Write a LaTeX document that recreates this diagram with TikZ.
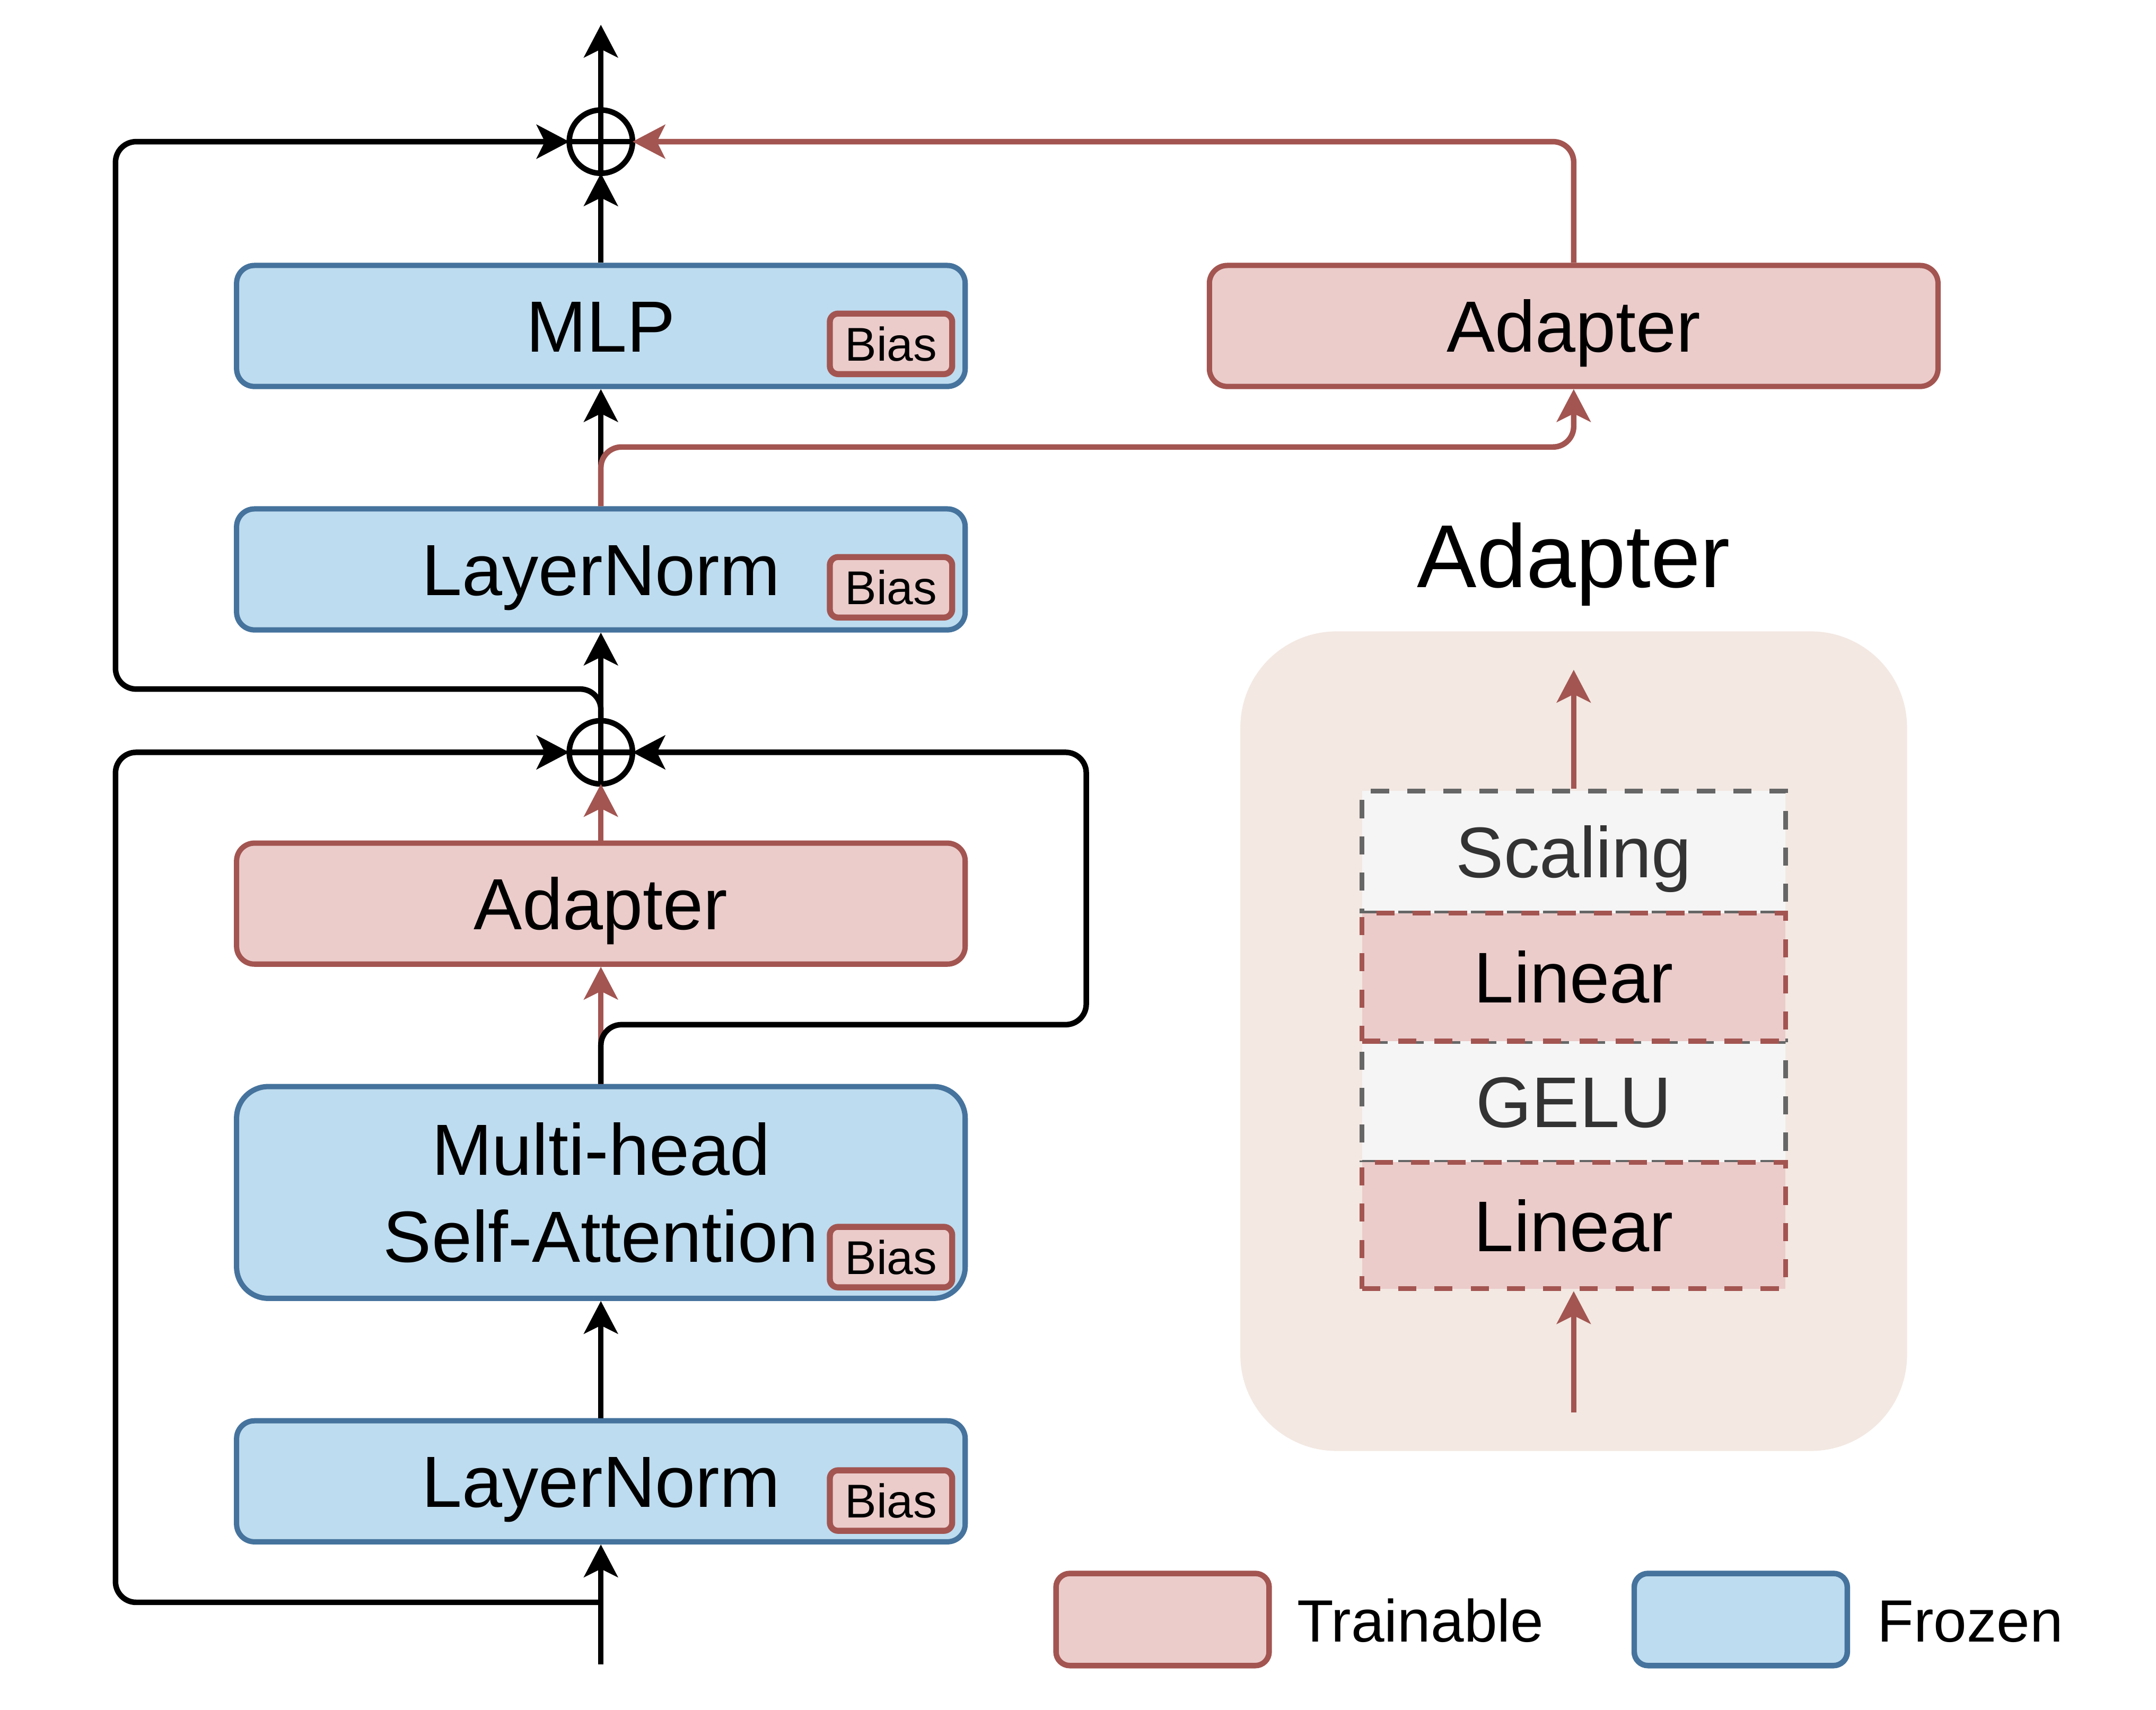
\documentclass[tikz,border=0pt]{standalone}
\usepackage{fontspec}
\setmainfont{Liberation Sans}
\usetikzlibrary{arrows.meta}
\definecolor{bfill}{HTML}{BEDCEF}
\definecolor{bdraw}{HTML}{45739D}
\definecolor{rfill}{HTML}{EBCCCB}
\definecolor{rdraw}{HTML}{A35551}
\definecolor{pfill}{HTML}{F3E8E2}
\definecolor{gfill}{HTML}{F5F5F5}
\definecolor{gdraw}{HTML}{666666}
\definecolor{gtext}{HTML}{333333}
\begin{document}
\begin{tikzpicture}[x=0.02cm,y=-0.02cm,
  >={Stealth[length=13.5pt,width=14pt,inset=3.4pt]},
  boxbase/.style={line width=2.2pt,rounded corners=0.26cm,minimum width=10.6cm,minimum height=1.76cm,inner sep=0pt},
  cap30/.style={font=\fontsize{30}{36}\selectfont,text height=21.5pt,text depth=0pt},
  frozen/.style={boxbase,draw=bdraw,fill=bfill},
  train/.style={boxbase,draw=rdraw,fill=rfill},
  bias/.style={draw=rdraw,fill=rfill,line width=2.5pt,rounded corners=0.12cm,minimum width=1.78cm,minimum height=0.88cm,inner sep=0pt,font=\fontsize{19.6}{22}\selectfont,text height=14pt,text depth=0pt},
  add/.style={circle,draw=black,line width=2.3pt,minimum size=0.92cm,inner sep=0pt,outer sep=0pt},
  conn/.style={line width=2.3pt,->,line join=round,rounded corners=0.3cm},
  redconn/.style={conn,draw=rdraw},
  panel/.style={fill=pfill,rounded corners=1.4cm,minimum width=9.7cm,minimum height=11.92cm,inner sep=0pt},
  stack/.style={line width=2pt,dash pattern=on 7.5pt off 7.5pt,minimum width=6.16cm,inner sep=0pt,font=\fontsize{29.7}{34}\selectfont,text height=21.3pt,text depth=0pt},
  gbox/.style={stack,draw=gdraw,fill=gfill,text=gtext},
  rdash/.style={stack,draw=rdraw,fill=rfill},
  legbox/.style={line width=2.3pt,rounded corners=0.2cm,minimum width=3.1cm,minimum height=1.34cm,inner sep=0pt},
  legtext/.style={inner sep=0pt,anchor=west,font=\fontsize{24.7}{30}\selectfont,text height=17.7pt,text depth=0pt}
]
\useasboundingbox (0,0) rectangle (1568,1243);

% ---------- Adapter detail panel ----------
\node[panel] (pnl) at (1144.5,757) {};
\node[font=\fontsize{37}{44}\selectfont,text height=26.5pt,text depth=0pt,inner sep=0pt] (ttl) at (1144.5,404) {Adapter};
\node[gbox,minimum height=1.78cm] (sc) at (1144.5,619.5) {Scaling};
\node[gbox,minimum height=1.76cm] (ge) at (1144.5,801) {GELU};
\node[rdash,minimum height=1.86cm] (li1) at (1144.5,710.5) {Linear};
\node[rdash,minimum height=1.84cm] (li2) at (1144.5,891) {Linear};
\coordinate (pin) at (1144.5,1027);
\coordinate (pout) at (1144.5,487);
\draw[redconn] (pin) -- (li2.south);
\draw[redconn] (sc.north) -- (pout);

% ---------- main column ----------
\node[frozen,cap30] (ln1) at (437,1077) {LayerNorm};
\node[frozen,rounded corners=0.46cm,minimum height=3.08cm,align=center,font=\fontsize{30}{36}\selectfont] (mhsa) at (437,867) {Multi-head\\Self-Attention};
\node[train,cap30] (adl) at (437,657) {Adapter};
\node[frozen,cap30] (ln2) at (437,414) {LayerNorm};
\node[frozen,cap30] (mlp) at (437,237) {MLP};
\node[train,cap30] (adr) at (1144.5,237) {Adapter};

\node[bias] (b1) at (648,1091) {Bias};
\node[bias] (b2) at (648,914) {Bias};
\node[bias] (b3) at (648,427) {Bias};
\node[bias] (b4) at (648,250) {Bias};

\node[add] (c2) at (437,547) {};
\draw[line width=2.3pt] (c2.north) -- (c2.south) (c2.west) -- (c2.east);
\node[add] (c1) at (437,103) {};
\draw[line width=2.3pt] (c1.north) -- (c1.south) (c1.west) -- (c1.east);

\coordinate (in) at (437,1210);
\coordinate (j) at (437,1165);
\coordinate (out) at (437,18);

% black connectors
\draw[conn] (in) -- (ln1.south);
\draw[conn] (ln1.north) -- (mhsa.south);
\draw[conn] (c2.north) -- (ln2.south);
\draw[conn] (ln2.north) -- (mlp.south);
\draw[conn] (mlp.north) -- (c1.south);
\draw[conn] (c1.north) -- (out);
\draw[conn] (j) -- (84,1165) -- (84,547) -- (c2.west);
\draw[conn] (c2.north) -- (437,501) -- (84,501) -- (84,103) -- (c1.west);

% red connectors
\draw[redconn] (mhsa.north) -- (adl.south);
\draw[redconn] (adl.north) -- (c2.south);
\draw[redconn] (ln2.north) -- (437,325) -- (1144.5,325) -- (adr.south);
\draw[redconn] (adr.north) -- (1144.5,103) -- (c1.east);

% residual around attention (drawn over the red start)
\draw[conn] (mhsa.north) -- (437,745) -- (790,745) -- (790,547) -- (c2.east);

% ---------- legend ----------
\node[legbox,draw=rdraw,fill=rfill] (lt) at (845.5,1177.5) {};
\node[legtext] (ltt) at (943,1178) {Trainable};
\node[legbox,draw=bdraw,fill=bfill] (lf) at (1266,1177.5) {};
\node[legtext] (lft) at (1365,1178) {Frozen};
\end{tikzpicture}
\end{document}
